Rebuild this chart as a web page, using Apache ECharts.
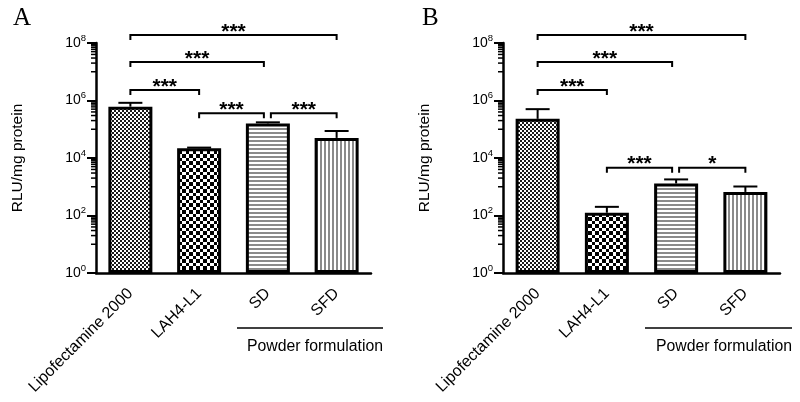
<!DOCTYPE html>
<html><head><meta charset="utf-8">
<script src="https://cdn.jsdelivr.net/npm/echarts@6/dist/echarts.min.js"></script>
<style>html,body{margin:0;padding:0;background:#fff}#c{width:800px;height:402px}</style>
</head><body><div id="c"></div>
<script>
// ---- data ----
const categories = ['Lipofectamine 2000', 'LAH4-L1', 'SD', 'SFD'];
const meanA  = [6.1e5, 2.2e4, 1.6e5, 5.0e4];
const upperA = [8.3e5, 2.3e4, 1.74e5, 8.7e4];
const meanB  = [2.3e5, 125, 1.3e3, 660];
const upperB = [5.0e5, 200, 1.8e3, 1.02e3];
// significance brackets: [from category, to category, level, label]
const sigA = [[0, 3, 1.9e8, '***'], [0, 2, 2.2e7, '***'], [0, 1, 2.3e6, '***'], [1, 2, 3.6e5, '***'], [2, 3, 3.6e5, '***']];
const sigB = [[0, 3, 1.9e8, '***'], [0, 2, 2.2e7, '***'], [0, 1, 2.3e6, '***'], [1, 2, 4.6e3, '***'], [2, 3, 4.6e3, '*']];
const yMin = 1, yMax = 1e8;
const majorExponents = [0, 2, 4, 6];
const minorMultipliers = [1, 2, 3, 4, 5, 6, 7, 8, 9];
const panelLetters = ['A', 'B'];
const groupLabel = 'Powder formulation';
const axisName = 'RLU/mg protein';

const FONT = '"Liberation Sans", Arial, sans-serif';

function pattern(kind) {
  const c = document.createElement('canvas');
  const ctx = c.getContext('2d');
  if (kind === 'fine') {
    c.width = 4; c.height = 4;
    ctx.fillStyle = '#fff'; ctx.fillRect(0, 0, 4, 4);
    ctx.fillStyle = '#1a1a1a'; ctx.fillRect(0, 0, 2, 2); ctx.fillRect(2, 2, 2, 2);
  } else if (kind === 'coarse') {
    c.width = 7; c.height = 7;
    ctx.fillStyle = '#fff'; ctx.fillRect(0, 0, 7, 7);
    ctx.fillStyle = '#000'; ctx.fillRect(0, 0, 4, 4); ctx.fillRect(4, 4, 3, 3);
  } else if (kind === 'hline') {
    c.width = 4; c.height = 4;
    ctx.fillStyle = '#fff'; ctx.fillRect(0, 0, 4, 4);
    ctx.fillStyle = '#8a8a8a'; ctx.fillRect(0, 0, 4, 2);
  } else {
    c.width = 4; c.height = 4;
    ctx.fillStyle = '#fff'; ctx.fillRect(0, 0, 4, 4);
    ctx.fillStyle = '#8a8a8a'; ctx.fillRect(0, 0, 2, 4);
  }
  return { image: c, repeat: 'repeat' };
}
const patterns = [pattern('fine'), pattern('coarse'), pattern('hline'), pattern('vline')];

const minorTicks = [];
majorExponents.forEach(e => minorMultipliers.forEach(m => minorTicks.push(m * Math.pow(10, e + 1))));

const grids = [
  { left: 96, top: 43, width: 275, height: 230 },
  { left: 503, top: 43, width: 277, height: 230 }
];

function xAxis(i) {
  return {
    type: 'category', gridIndex: i, data: categories,
    axisLine: { onZero: false, lineStyle: { color: '#000', width: 2.5 } },
    axisTick: { alignWithLabel: true, length: 7, lineStyle: { color: '#000', width: 2 } },
    axisLabel: { rotate: 45, margin: 18, color: '#000', fontSize: 16, fontFamily: FONT, interval: 0 }
  };
}
function yAxis(i) {
  return {
    type: 'log', logBase: 10, gridIndex: i, min: yMin, max: yMax, interval: 2,
    name: axisName, nameLocation: 'middle', nameGap: 70, nameRotate: 90,
    nameTextStyle: { color: '#000', fontSize: 15.5, fontFamily: FONT },
    axisLine: { show: true, lineStyle: { color: '#000', width: 2.5 } },
    axisTick: { show: true, length: 9, lineStyle: { color: '#000', width: 2 } },
    splitLine: { show: false },
    axisLabel: {
      margin: 10, color: '#000',
      formatter: v => '{b|10}{s|' + Math.round(Math.log10(v)) + '}',
      rich: {
        b: { fontSize: 14, fontFamily: FONT, color: '#000', lineHeight: 20 },
        s: { fontSize: 9.5, fontFamily: FONT, color: '#000', lineHeight: 8, verticalAlign: 'top' }
      }
    }
  };
}
function barSeries(i, vals) {
  return {
    type: 'bar', xAxisIndex: i, yAxisIndex: i, barWidth: 44, silent: true, z: 2,
    data: vals.map((v, k) => ({ value: v, itemStyle: { color: patterns[k], borderColor: '#000', borderWidth: 3 } }))
  };
}
function errSeries(i, means, uppers) {
  return {
    type: 'custom', xAxisIndex: i, yAxisIndex: i, silent: true, z: 3,
    data: means.map((m, k) => [k, m, uppers[k]]),
    encode: { x: 0, y: [1, 2] },
    renderItem(params, api) {
      const p1 = api.coord([api.value(0), api.value(1)]);
      const p2 = api.coord([api.value(0), api.value(2)]);
      const hw = 12;
      return { type: 'group', children: [
        { type: 'line', shape: { x1: p1[0], y1: p1[1], x2: p2[0], y2: p2[1] }, style: { stroke: '#000', lineWidth: 2 } },
        { type: 'line', shape: { x1: p2[0] - hw, y1: p2[1], x2: p2[0] + hw, y2: p2[1] }, style: { stroke: '#000', lineWidth: 2 } }
      ] };
    }
  };
}
function sigSeries(i, sig) {
  return {
    type: 'custom', xAxisIndex: i, yAxisIndex: i, silent: true, clip: false, z: 4,
    data: sig.map(s => [s[0], s[1], s[2]]),
    encode: { x: [0, 1], y: 2 },
    renderItem(params, api) {
      const s = sig[params.dataIndex];
      const a = api.coord([api.value(0), api.value(2)]);
      const b = api.coord([api.value(1), api.value(2)]);
      const x1 = a[0] + (s[0] === 2 ? 3 : 0);
      const x2 = b[0] - (s[1] === 2 ? 4 : 0);
      const y = a[1];
      return { type: 'group', children: [
        { type: 'polyline', shape: { points: [[x1, y + 5], [x1, y], [x2, y], [x2, y + 5]] }, style: { stroke: '#000', lineWidth: 2, fill: null } },
        { type: 'text', style: { text: s[3], x: (x1 + x2) / 2, y: y - 3, textAlign: 'center', textVerticalAlign: 'middle', font: 'bold 21px ' + FONT, fill: '#000' } }
      ] };
    }
  };
}
function minorSeries(i) {
  return {
    type: 'custom', xAxisIndex: i, yAxisIndex: i, silent: true, clip: false, z: 4,
    data: minorTicks.map(v => [0, v]),
    encode: { x: 0, y: 1 },
    renderItem(params, api) {
      const p = api.coord([0, api.value(1)]);
      const band = api.size([1, 0])[0];
      const x = p[0] - band / 2;
      return { type: 'line', shape: { x1: x - 5, y1: p[1], x2: x, y2: p[1] }, style: { stroke: '#000', lineWidth: 1.5 } };
    }
  };
}

const graphic = [];
[[13, 18.5], [422, 18.5]].forEach((p, i) => graphic.push({
  type: 'text', left: p[0], top: 6, style: { text: panelLetters[i], font: '25px "Liberation Serif", "Times New Roman", serif', fill: '#000' }
}));
[[237, 383], [645, 792]].forEach(p => {
  graphic.push({ type: 'line', shape: { x1: p[0], y1: 328, x2: p[1], y2: 328 }, style: { stroke: '#000', lineWidth: 1.5 } });
  graphic.push({ type: 'text', x: p[1], y: 347, style: { text: groupLabel, font: '15.8px ' + FONT, fill: '#000', textAlign: 'right', textVerticalAlign: 'middle' } });
});

const chart = echarts.init(document.getElementById('c'), null, { renderer: 'canvas' });
chart.setOption({
  animation: false,
  backgroundColor: '#fff',
  grid: grids,
  xAxis: [xAxis(0), xAxis(1)],
  yAxis: [yAxis(0), yAxis(1)],
  series: [
    barSeries(0, meanA), errSeries(0, meanA, upperA), sigSeries(0, sigA), minorSeries(0),
    barSeries(1, meanB), errSeries(1, meanB, upperB), sigSeries(1, sigB), minorSeries(1)
  ],
  graphic: graphic
});
</script></body></html>
